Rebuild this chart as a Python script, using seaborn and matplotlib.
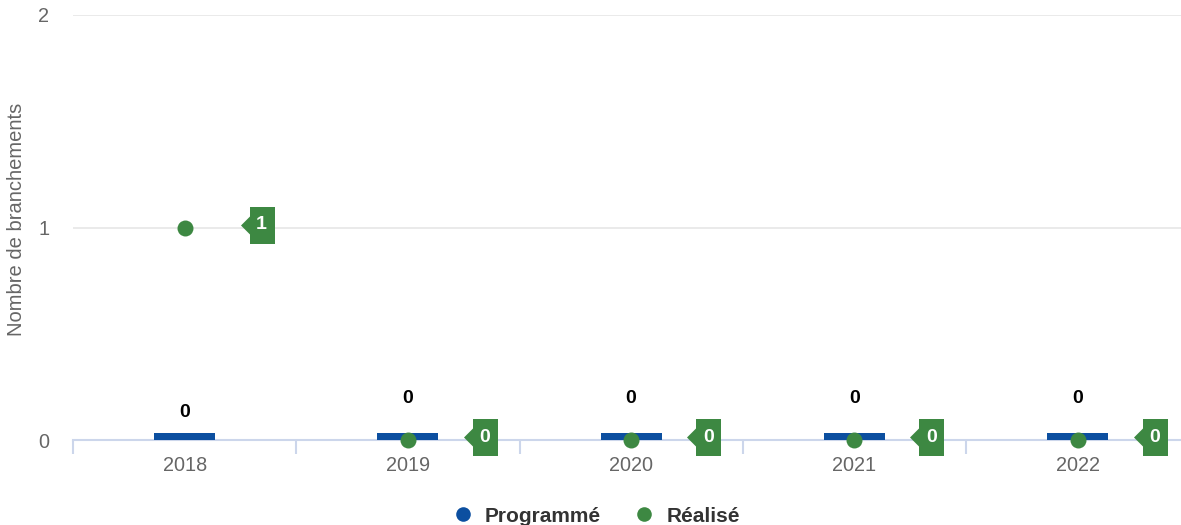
import numpy as np
import pandas as pd
import matplotlib
matplotlib.use("Agg")
import matplotlib.pyplot as plt
import matplotlib.transforms as mtransforms
from matplotlib.path import Path
from matplotlib.lines import Line2D
import seaborn as sns

# ---- data ----
annees = ["2018", "2019", "2020", "2021", "2022"]
programme = [0, 0, 0, 0, 0]
realise = [1, 0, 0, 0, 0]
yticks = [0, 1, 2]
ylabel = "Nombre de branchements"
legend_labels = ["Programmé", "Réalisé"]

BLUE = "#0c4fa0"
GREEN = "#3d8842"
AXIS = "#ccd6eb"
GRID = "#e6e6e6"

df = pd.DataFrame({"annee": annees, "programme": programme, "realise": realise})

sns.set_theme(style="white")
plt.rcParams["font.family"] = ["Liberation Sans", "DejaVu Sans"]

W, H = 1181, 525
fig = plt.figure(figsize=(W / 100, H / 100), dpi=100)
ax = fig.add_axes([73 / W, 85 / H, (1189.25 - 73) / W, 425 / H])

sns.barplot(data=df, x="annee", y="programme", color=BLUE, saturation=1,
            width=0.273, ax=ax, zorder=3, linewidth=0)
# minimum visible bar length (like minPointLength)
min_len = 0.033
for p in ax.patches:
    if abs(p.get_height()) < min_len:
        p.set_height(min_len)

sns.stripplot(data=df, x="annee", y="realise", jitter=False, size=11.5,
              color=GREEN, linewidth=0, ax=ax, zorder=5)
for c in ax.collections:
    c.set_clip_on(False)

ax.set_xlim(-0.5, len(annees) - 0.5)
ax.set_ylim(0, 2)
ax.set_yticks(yticks)
ax.set_yticklabels([str(t) for t in yticks])
ax.yaxis.grid(True, color=GRID, lw=1.2, zorder=0)
ax.xaxis.grid(False)
for s in ["left", "right", "top"]:
    ax.spines[s].set_visible(False)
ax.spines["bottom"].set_color(AXIS)
ax.spines["bottom"].set_linewidth(1.5)
ax.spines["bottom"].set_zorder(2)

ax.tick_params(axis="y", length=0, pad=17, labelsize=14.3, labelcolor="#666666")
ax.tick_params(axis="x", which="major", length=0, pad=11.5, labelsize=14.3, labelcolor="#666666")
ax.set_xticks(np.arange(-0.5, len(annees), 1), minor=True)
ax.tick_params(axis="x", which="minor", length=10, width=1.5, color=AXIS, bottom=True)

ax.set_xlabel("")
ax.set_ylabel(ylabel, fontsize=14.5, color="#666666")
ax.yaxis.set_label_coords(-0.042, 0.518)

# bar data labels
for i, (v, r) in enumerate(zip(programme, realise)):
    off = 24.5 if r == v else 15
    ax.annotate(str(v), xy=(i, max(v, min_len)), xytext=(0, off), textcoords="offset points",
                ha="center", va="center", fontsize=14, fontweight="bold", color="black", zorder=6)

# callout labels for Réalisé
px2pt = 0.72
verts = np.array([(-12.5, -18.5), (12.5, -18.5), (12.5, 18.5), (-12.5, 18.5),
                  (-12.5, 9.0), (-21.5, 0.0), (-12.5, -9.0), (-12.5, -18.5)])
callout = Path(verts, closed=True)
msize = 2 * 21.5 * px2pt
tr = mtransforms.offset_copy(ax.transData, fig=fig, x=77, y=3, units="dots")
x_idx = np.arange(len(annees))
ax.plot(x_idx, realise, linestyle="none", marker=callout, markersize=msize,
        color=GREEN, markeredgewidth=0, transform=tr, zorder=6, clip_on=False)
for i, r in enumerate(realise):
    ax.text(i, r, str(r), transform=tr, ha="center", va="center", color="white",
            fontsize=14, fontweight="bold", zorder=7)

handles = [Line2D([], [], linestyle="none", marker="o", markersize=10.5, color=c, markeredgewidth=0)
           for c in (BLUE, GREEN)]
leg = fig.legend(handles, legend_labels, loc="center", bbox_to_anchor=(596 / W, 1 - 516 / H),
                 ncol=2, frameon=False, handletextpad=0.55, columnspacing=1.6,
                 prop={"size": 15, "weight": "bold"}, handlelength=1.0)
for t in leg.get_texts():
    t.set_color("#333333")

fig.savefig("out.png", dpi=100)
